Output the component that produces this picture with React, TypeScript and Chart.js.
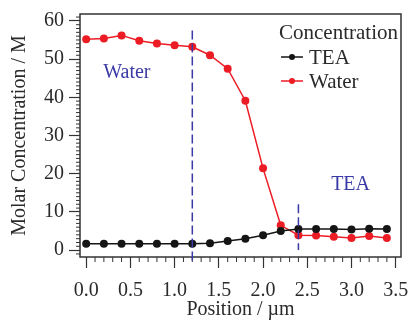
import React, { useEffect, useRef } from "react";
import { Chart, registerables } from "chart.js";

Chart.register(...registerables);

const positions = [0, 0.2, 0.4, 0.6, 0.8, 1.0, 1.2, 1.4, 1.6, 1.8, 2.0, 2.2, 2.4, 2.6, 2.8, 3.0, 3.2, 3.4];
const teaValues = [1.7, 1.7, 1.7, 1.7, 1.7, 1.7, 1.7, 1.8, 2.4, 3.0, 3.9, 5.0, 5.5, 5.5, 5.5, 5.4, 5.6, 5.5];
const waterValues = [55.2, 55.4, 56.2, 54.8, 54.1, 53.6, 53.2, 51.0, 47.5, 39.1, 21.4, 6.5, 3.9, 3.8, 3.5, 3.2, 3.7, 3.2];
const seriesNames = ["TEA", "Water"];
const legendTitle = "Concentration";
const dividerX = [1.2, 2.4];
const dividerTop = [57.5, 12];
const regionLabels = ["Water", "TEA"];
const regionLabelX = [0.46, 2.99];
const regionLabelY = [46.4, 17];
const xTitle = "Position / µm";
const yTitle = "Molar Concentration / M";

const RED = "#ec1c24";
const BLACK = "#151515";
const BLUE = "#3a3aa6";
const TEXT = "#2a2a2a";
const FONT = "'Liberation Serif', 'DejaVu Serif', serif";

export default function App() {
  const ref = useRef<HTMLCanvasElement | null>(null);

  useEffect(() => {
    document.body.style.margin = "0";
    const canvas = ref.current;
    if (!canvas) return;

    const overlay = {
      id: "overlay",
      afterDatasetsDraw(chart: any) {
        const ctx = chart.ctx;
        const xs = chart.scales.x;
        const ys = chart.scales.y;
        const area = chart.chartArea;
        ctx.save();
        // frame
        ctx.strokeStyle = "#333";
        ctx.lineWidth = 1.5;
        ctx.strokeRect(area.left, area.top, area.right - area.left, area.bottom - area.top);
        // minor ticks
        ctx.lineWidth = 1;
        ctx.strokeStyle = "#333";
        for (let v = -1; v <= 61; v++) {
          if (v % 10 === 0) continue;
          const y = ys.getPixelForValue(v);
          if (y < area.top || y > area.bottom) continue;
          ctx.beginPath();
          ctx.moveTo(area.left - 4, y);
          ctx.lineTo(area.left, y);
          ctx.stroke();
        }
        for (let i = 0; i <= 35; i++) {
          if (i % 5 === 0) continue;
          const x = xs.getPixelForValue(i / 10);
          ctx.beginPath();
          ctx.moveTo(x, area.bottom);
          ctx.lineTo(x, area.bottom + 5);
          ctx.stroke();
        }
        // dividers
        ctx.strokeStyle = BLUE;
        ctx.lineWidth = 1.5;
        ctx.setLineDash([9, 4]);
        dividerX.forEach((dx, i) => {
          const x = xs.getPixelForValue(dx);
          ctx.beginPath();
          ctx.moveTo(x, ys.getPixelForValue(dividerTop[i]));
          ctx.lineTo(x, i === 0 ? area.bottom + 5 : ys.getPixelForValue(0));
          ctx.stroke();
        });
        ctx.setLineDash([]);
        // region labels
        ctx.fillStyle = BLUE;
        ctx.font = `20px ${FONT}`;
        ctx.textAlign = "center";
        ctx.textBaseline = "middle";
        regionLabels.forEach((t, i) => {
          ctx.fillText(t, xs.getPixelForValue(regionLabelX[i]), ys.getPixelForValue(regionLabelY[i]));
        });
        // legend
        ctx.fillStyle = TEXT;
        ctx.textAlign = "left";
        ctx.font = `21px ${FONT}`;
        ctx.fillText(legendTitle, 279, 33);
        const colors = [BLACK, RED];
        seriesNames.forEach((name, i) => {
          const y = 57 + i * 24;
          ctx.strokeStyle = colors[i];
          ctx.fillStyle = colors[i];
          ctx.lineWidth = 1.5;
          ctx.beginPath();
          ctx.moveTo(281, y);
          ctx.lineTo(303, y);
          ctx.stroke();
          ctx.beginPath();
          ctx.arc(292, y, 3, 0, Math.PI * 2);
          ctx.fill();
          ctx.fillStyle = TEXT;
          ctx.font = `21px ${FONT}`;
          ctx.fillText(name, 309, y + 1);
        });
        ctx.restore();
      },
    };

    const chart = new Chart(canvas, {
      type: "line",
      data: {
        datasets: [
          {
            label: seriesNames[0],
            data: positions.map((x, i) => ({ x, y: teaValues[i] })),
            borderColor: BLACK,
            backgroundColor: BLACK,
            borderWidth: 1.5,
            pointRadius: 4,
            pointBorderWidth: 0,
            pointBackgroundColor: BLACK,
          },
          {
            label: seriesNames[1],
            data: positions.map((x, i) => ({ x, y: waterValues[i] })),
            borderColor: RED,
            backgroundColor: RED,
            borderWidth: 1.5,
            pointRadius: 4,
            pointBorderWidth: 0,
            pointBackgroundColor: RED,
          },
        ],
      },
      options: {
        animation: false,
        responsive: false,
        maintainAspectRatio: false,
        layout: { padding: { left: 0, top: 14, right: 8, bottom: 0 } },
        plugins: { legend: { display: false }, tooltip: { enabled: false } },
        scales: {
          x: {
            type: "linear",
            min: -0.07,
            max: 3.56,
            afterFit(s: any) {
              s.height = 68;
              s.paddingLeft = 0;
              s.paddingRight = 0;
            },
            ticks: {
              stepSize: 0.5,
              includeBounds: false,
              color: TEXT,
              font: { family: FONT, size: 20 },
              padding: 11,
              maxRotation: 0,
              callback: (v: any) => Number(v).toFixed(1),
            },
            grid: {
              drawOnChartArea: false,
              drawTicks: true,
              tickLength: 11,
              tickColor: "#333",
              tickWidth: 1.2,
            },
            border: { display: false },
            title: {
              display: true,
              text: xTitle,
              color: TEXT,
              font: { family: FONT, size: 20 },
              padding: { top: 0, bottom: 3 },
            },
          },
          y: {
            type: "linear",
            min: -1.8,
            max: 61.8,
            afterFit(s: any) {
              s.width = 80;
              s.paddingTop = 0;
              s.paddingBottom = 0;
            },
            ticks: {
              stepSize: 10,
              includeBounds: false,
              color: TEXT,
              font: { family: FONT, size: 20 },
              padding: 5,
            },
            grid: {
              drawOnChartArea: false,
              drawTicks: true,
              tickLength: 11,
              tickColor: "#333",
              tickWidth: 1.2,
            },
            border: { display: false },
            title: {
              display: true,
              text: yTitle,
              color: TEXT,
              font: { family: FONT, size: 20 },
              padding: { top: 8, bottom: 0 },
            },
          },
        },
      },
      plugins: [overlay],
    });

    return () => chart.destroy();
  }, []);

  return (
    <div style={{ position: "absolute", left: 0, top: 0, width: 409, height: 325, background: "#fff" }}>
      <canvas ref={ref} width={409} height={325} style={{ display: "block" }} />
    </div>
  );
}
